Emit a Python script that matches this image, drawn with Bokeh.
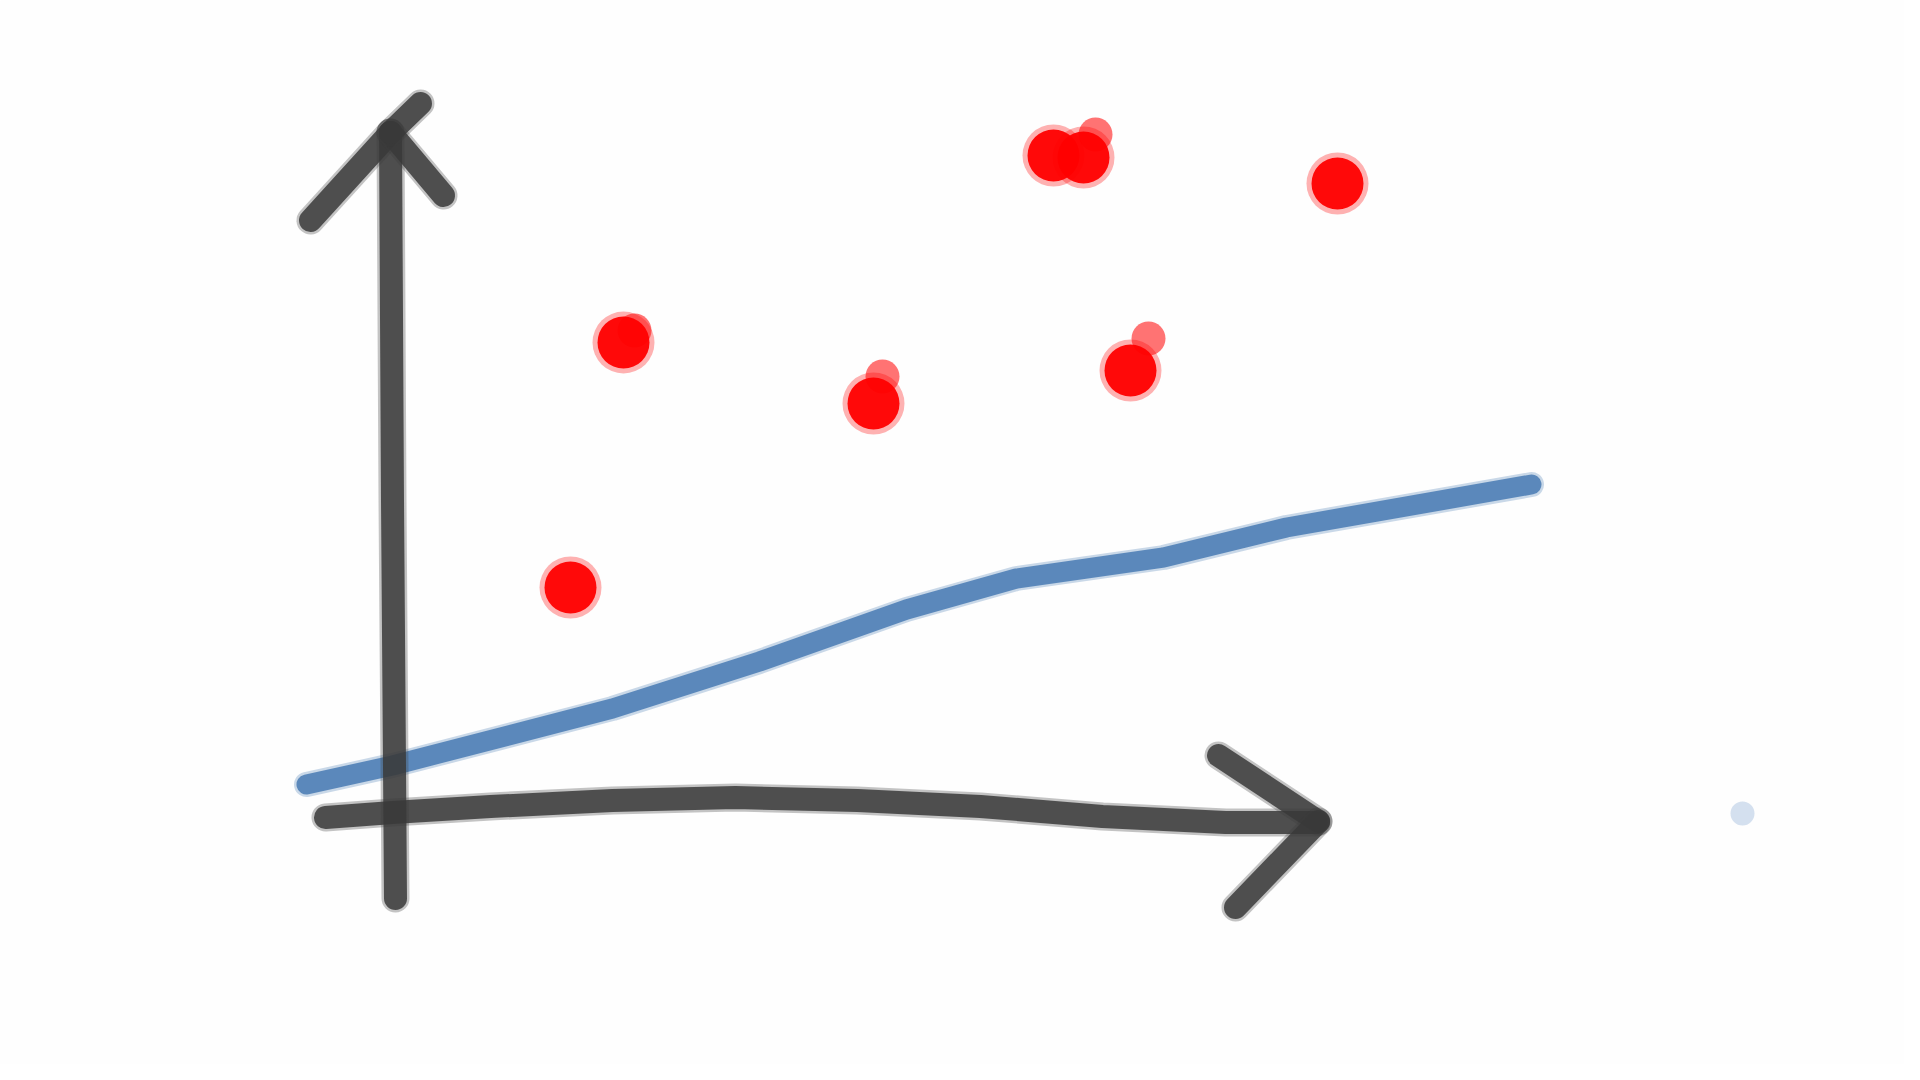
from bokeh.plotting import figure
from bokeh.models import Range1d
from bokeh.embed import file_html
from bokeh.resources import INLINE

# Sketch strokes (data units; origin at the axes crossing)
y_axis_x = [0.03, 0.0, -0.02]
y_axis_y = [-0.86, 3.12, 6.80]
y_head_left_x = [-0.82, -0.02]
y_head_left_y = [5.92, 6.80]
y_head_right_x = [-0.02, 0.51]
y_head_right_y = [6.80, 6.17]
y_head_tail_x = [-0.02, 0.28]
y_head_tail_y = [6.80, 7.09]

x_axis_x = [-0.67, 0.0, 0.98, 2.20, 3.43, 4.65, 5.88, 7.10, 8.33, 9.24]
x_axis_y = [-0.05, 0.0, 0.06, 0.12, 0.15, 0.12, 0.06, -0.04, -0.10, -0.10]
x_head_top_x = [8.26, 9.26]
x_head_top_y = [0.57, -0.09]
x_head_bot_x = [9.26, 8.43]
x_head_bot_y = [-0.09, -0.95]

# Blue trend line
line_x = [-0.86, 0.0, 2.20, 3.67, 5.14, 6.24, 7.71, 8.94, 11.39]
line_y = [0.28, 0.47, 1.04, 1.51, 2.03, 2.34, 2.55, 2.85, 3.28]

# Red points
pts_x = [1.78, 2.31, 4.81, 6.61, 6.91, 7.38, 9.45]
pts_y = [2.25, 4.70, 4.09, 6.57, 6.55, 4.42, 6.29]
# smudges next to some points
smudge_x = [4.90, 7.03, 7.56, 2.42]
smudge_y = [4.36, 6.78, 4.74, 4.82]

# stray light-blue dot
stray_x = [13.50]
stray_y = [-0.01]

p = figure(width=1904, height=1064, output_backend="svg", toolbar_location=None,
           x_range=Range1d(-3.92, 15.12), y_range=Range1d(-2.52, 8.12),
           min_border=0, background_fill_color="#fefefe", border_fill_color="#fefefe")
p.axis.visible = False
p.xgrid.visible = False
p.ygrid.visible = False
p.outline_line_color = None

def stroke(xs, ys, color, w, a=0.85):
    p.line(xs, ys, line_color=color, line_width=w + 5, line_alpha=0.3,
           line_cap="round", line_join="round")
    p.line(xs, ys, line_color=color, line_width=w, line_alpha=a,
           line_cap="round", line_join="round")

black = "#3a3a3a"
stroke(x_axis_x, x_axis_y, black, 23)
stroke(x_head_top_x, x_head_top_y, black, 23)
stroke(x_head_bot_x, x_head_bot_y, black, 23)

stroke(line_x, line_y, "#4f80b6", 20, 0.9)

stroke(y_axis_x, y_axis_y, black, 23)
stroke(y_head_left_x, y_head_left_y, black, 23)
stroke(y_head_right_x, y_head_right_y, black, 23)
stroke(y_head_tail_x, y_head_tail_y, black, 23)

# red dots
p.circle(smudge_x, smudge_y, radius=0.17, fill_color="#ff0000", fill_alpha=0.55, line_color=None)
p.circle(pts_x, pts_y, radius=0.31, fill_color="#ff0000", fill_alpha=0.3, line_color=None)
p.circle(pts_x, pts_y, radius=0.26, fill_color="#ff0000", fill_alpha=0.95, line_color=None)

p.circle(stray_x, stray_y, radius=0.12, fill_color="#b8cce4", fill_alpha=0.6, line_color=None)

open("out.html", "w").write(file_html(p, INLINE))
